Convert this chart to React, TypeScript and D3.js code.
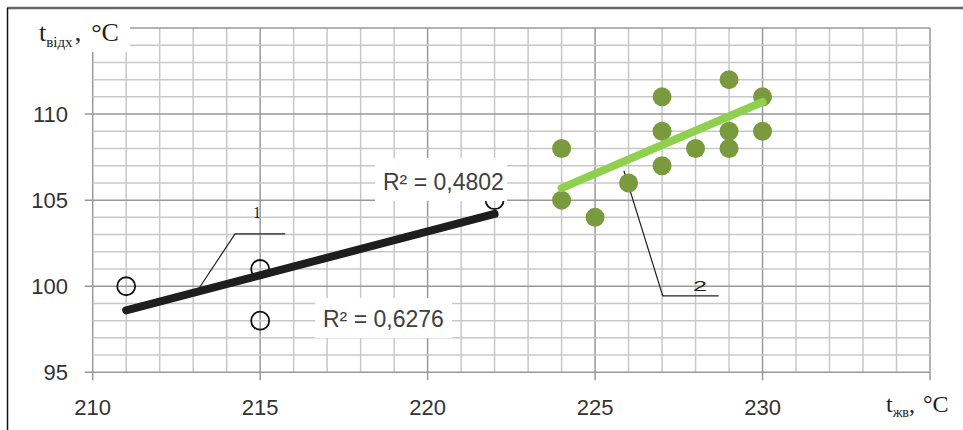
import React from 'react';
import * as d3 from 'd3';

// series 1 (open circles) and series 2 (green dots)
const s1X = [211, 215, 215, 222];
const s1Y = [100, 101, 98, 105];
const s2X = [224, 224, 225, 226, 227, 227, 227, 228, 229, 229, 229, 230, 230];
const s2Y = [108, 105, 104, 106, 111, 109, 107, 108, 112, 109, 108, 111, 109];

// trendline ends
const trend1X = [211, 222];
const trend1Y = [98.6, 104.2];
const trend2X = [224, 230];
const trend2Y = [105.7, 110.7];

const xTickLabels = [210, 215, 220, 225, 230];
const yTickLabels = [95, 100, 105, 110];
const r2Labels = ['R² = 0,4802', 'R² = 0,6276'];

// callout leaders, in data units
const callout1 = [[213.14, 99.78], [214.25, 103.04], [215.75, 103.04]];
const callout2 = [[225.86, 106.71], [227.02, 99.44], [228.69, 99.44]];

const W = 963;
const H = 430;
const left = 92.7, right = 930, top = 28, bottom = 372.3;

export default function App() {
  const x = d3.scaleLinear().domain([210, 235]).range([left, right]);
  const y = d3.scaleLinear().domain([95, 115]).range([bottom, top]);

  const xs = d3.range(210, 236);
  const ys = d3.range(95, 116);
  const line = d3.line<number[]>().x(d => x(d[0])).y(d => y(d[1]));

  const sans = '"Liberation Sans", Arial, sans-serif';
  const serif = '"Liberation Serif", "Times New Roman", serif';

  return (
    <svg width={W} height={H} style={{ position: 'absolute', left: 0, top: 0, background: '#fff' }}>
      {/* grid */}
      <g>
        {xs.map(v => (
          <line key={'gx' + v} x1={x(v)} x2={x(v)} y1={top} y2={v % 5 === 0 ? bottom + 8 : bottom}
            stroke={v % 5 === 0 ? '#999' : '#c8c8c8'} strokeWidth={1.5} />
        ))}
        {ys.map(v => (
          <line key={'gy' + v} x1={v % 5 === 0 ? left - 8 : left} x2={right} y1={y(v)} y2={y(v)}
            stroke={v % 5 === 0 ? '#999' : '#c8c8c8'} strokeWidth={1.5} />
        ))}
      </g>

      {/* frame */}
      <line x1={7} x2={W} y1={8} y2={8} stroke="#666" strokeWidth={2.5} />
      <line x1={7.5} x2={7.5} y1={8} y2={H} stroke="#111" strokeWidth={1.5} />

      {/* tick labels */}
      <g fontFamily={sans} fontSize={22} fill="#333">
        {xTickLabels.map(v => (
          <text key={'xl' + v} x={x(v)} y={415} textAnchor="middle">{v}</text>
        ))}
        {yTickLabels.map(v => (
          <text key={'yl' + v} x={68} y={y(v) + 8} textAnchor="end">{v}</text>
        ))}
      </g>

      {/* y title */}
      <rect x={30} y={12} width={100} height={40} fill="#fff" />
      <text x={39} y={41} fontFamily={serif} fontSize={26} fill="#222">
        t<tspan fontSize={15} dy={6}>відх</tspan><tspan dy={-6} dx={2}>,</tspan><tspan dx={10}>°C</tspan>
      </text>

      {/* x title */}
      <text x={886} y={412} fontFamily={serif} fontSize={24} fill="#222">
        t<tspan fontSize={14} dy={5}>жв</tspan><tspan dy={-5}>,</tspan><tspan dx={8}>°C</tspan>
      </text>

      {/* callouts */}
      <path d={line(callout1) || ''} fill="none" stroke="#222" strokeWidth={1.2} />
      <text x={x(callout1[1][0]) + 22} y={218} fontFamily={serif} fontSize={16} textAnchor="middle" fill="#222">1</text>
      <path d={line(callout2) || ''} fill="none" stroke="#222" strokeWidth={1.2} />
      <text x={693} y={291} fontFamily={sans} fontSize={15} textLength={14} lengthAdjust="spacingAndGlyphs" fill="#222">2</text>

      {/* series 2 + trendline */}
      {s2X.map((v, i) => (
        <circle key={'s2' + i} cx={x(v)} cy={y(s2Y[i])} r={9.5} fill="#7a9a3e" />
      ))}
      <path d={line(trend2X.map((v, i) => [v, trend2Y[i]])) || ''} stroke="#8fd14f" strokeWidth={8}
        strokeLinecap="round" fill="none" />

      {/* series 1 + trendline */}
      {s1X.map((v, i) => (
        <circle key={'s1' + i} cx={x(v)} cy={y(s1Y[i])} r={9} fill="none" stroke="#111" strokeWidth={1.8} />
      ))}
      <path d={line(trend1X.map((v, i) => [v, trend1Y[i]])) || ''} stroke="#1e1e1e" strokeWidth={8}
        strokeLinecap="round" fill="none" />

      {/* R² labels */}
      <rect x={375} y={158} width={132} height={43} fill="#fff" />
      <text x={383} y={189.5} fontFamily={sans} fontSize={23} fill="#404040">{r2Labels[0]}</text>
      <rect x={315} y={298} width={137} height={40} fill="#fff" />
      <text x={323} y={327} fontFamily={sans} fontSize={23} fill="#404040">{r2Labels[1]}</text>
    </svg>
  );
}
